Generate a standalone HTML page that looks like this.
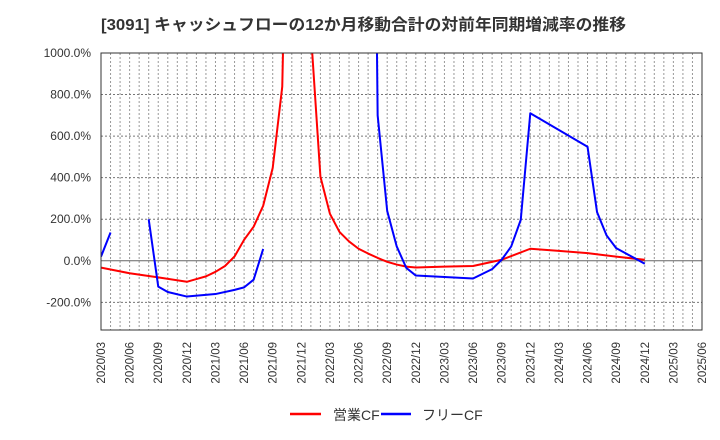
<!DOCTYPE html>
<html><head><meta charset="utf-8"><style>
body{margin:0;background:#fff;}
svg{display:block;font-family:"Liberation Sans","Noto Sans CJK JP",sans-serif;}
</style></head><body>
<svg id="chart" width="720" height="440" viewBox="0 0 720 440" xmlns="http://www.w3.org/2000/svg">
<text x="101" y="30" font-size="16" font-weight="bold" fill="#333" textLength="525" lengthAdjust="spacingAndGlyphs">[3091]  キャッシュフローの12か月移動合計の対前年同期増減率の推移</text>
<defs><clipPath id="plotclip"><rect x="101" y="53" width="601" height="277"/></clipPath></defs>
<g id="grid"></g>
<g id="series" clip-path="url(#plotclip)"></g>
<rect x="101" y="53" width="601" height="277" fill="none" stroke="#333" stroke-width="1"/>
<g id="yaxis"></g><g id="xaxis"></g>
<g>
<line x1="290" y1="414" x2="321" y2="414" stroke="#f00" stroke-width="2.5"/>
<text x="333" y="420" font-size="14" fill="#333">営業CF</text>
<line x1="381" y1="414" x2="411" y2="414" stroke="#00f" stroke-width="2.5"/>
<text x="422" y="420" font-size="14" fill="#333">フリーCF</text>
</g>
</svg>
<script>
const xTickLabels=["2020/03","2020/06","2020/09","2020/12","2021/03","2021/06","2021/09","2021/12","2022/03","2022/06","2022/09","2022/12","2023/03","2023/06","2023/09","2023/12","2024/03","2024/06","2024/09","2024/12","2025/03","2025/06"];
const yTicks=[-200,0,200,400,600,800,1000];
// months since 2020/03
const opMonths=[0,3,6,9,10,11,12,13,14,15,16,17,18,19,20,21,22,23,24,25,26,27,28,29,30,31,32,33,36,39,42,45,48,51,54,57];
const opValues=[-33,-60,-80,-101,-88,-75,-53,-25,21,101,164,265,447,838,3000,3000,1100,405,226,139,93,58,35,14,-5,-18,-28,-32,-28,-25,5,58,48,37,20,5];
const fcfSegments=[
 {months:[0,1],values:[20,136]},
 {months:[5,6,7,9,12,14,15,16,17],values:[200,-124,-150,-172,-160,-140,-128,-91,57]},
 {months:[28,29,30,31,32,33,39,41,42,43,44,45,51,52,53,54,57],values:[5000,700,240,69,-34,-71,-85,-40,5,69,197,710,549,234,122,61,-14]}
];
const X0=101,X1=702,Y0=53,Y1=330,NM=63,VMIN=-333,VMAX=1000;
const xs=m=>X0+m*(X1-X0)/NM;
const ys=v=>Y0+(VMAX-v)*(Y1-Y0)/(VMAX-VMIN);
const NS="http://www.w3.org/2000/svg";
function mk(tag,attrs,parent){const e=document.createElementNS(NS,tag);for(const k in attrs)e.setAttribute(k,attrs[k]);parent.appendChild(e);return e;}
const grid=document.getElementById('grid');
for(let m=1;m<NM;m++){
 const l=mk('line',{x1:xs(m),x2:xs(m),y1:Y0,y2:Y1,stroke:'#999','stroke-width':1,'stroke-dasharray':'2,2'},grid);
 
 
}
const ya=document.getElementById('yaxis');
yTicks.forEach(v=>{
 if(v!==VMAX){const l=mk('line',{x1:X0,x2:X1,y1:ys(v),y2:ys(v),stroke:v===0?'#666':'#777','stroke-width':1,'stroke-dasharray':v===0?'none':'2,2'},grid);
 
 }
 const t=mk('text',{x:91,y:ys(v)+4,'text-anchor':'end','font-size':12,fill:'#333'},ya);
 
 
 t.textContent=v.toFixed(1)+'%';
});
const xa=document.getElementById('xaxis');
xTickLabels.forEach((s,i)=>{
 const x=xs(i*3);
 const t=mk('text',{x:0,y:0,'text-anchor':'end','font-size':11.5,fill:'#333',transform:`translate(${x+4},342) rotate(-90)`},xa);
 
 
 t.textContent=s;
});
const ser=document.getElementById('series');
function line(months,values,color,name){
 const p=mk('polyline',{points:months.map((m,i)=>xs(m)+','+ys(values[i])).join(' '),fill:'none',stroke:color,'stroke-width':2,'stroke-linejoin':'round'},ser);
 
 
}
line(opMonths,opValues,'#f00','operating-cf-line');
fcfSegments.forEach(s=>line(s.months,s.values,'#00f','free-cf-line'));
</script>
</body></html>
